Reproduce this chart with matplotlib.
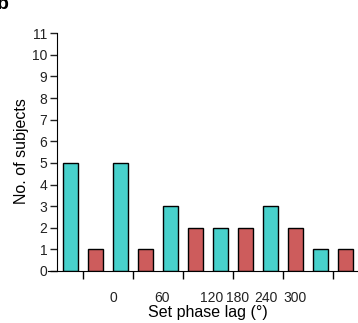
import matplotlib
matplotlib.use("Agg")
import matplotlib.pyplot as plt

plt.rcParams["font.family"] = ["Liberation Sans", "DejaVu Sans"]

# bar heights, left to right
counts = [5, 1, 5, 1, 3, 2, 2, 2, 3, 2, 1, 1]
colors = ["#48D1CC", "#CD5C5C"] * 6
lag_labels = ["0", "60", "120", "180", "240", "300"]
lag_label_pos = [1.72, 3.68, 5.68, 6.72, 7.82, 9.0]
tick_pos = [0.5, 2.5, 4.5, 6.5, 8.5, 10.5]

fig = plt.figure(figsize=(3.58, 3.23), dpi=100)
ax = fig.add_axes([48 / 358, 52 / 323, 310 / 358, 240 / 323])

ax.bar(range(len(counts)), counts, width=0.6, color=colors,
       edgecolor="black", linewidth=1.0)

ax.set_xlim(-0.88, 11.52)
ax.set_ylim(0, 11.1)

ax.spines["top"].set_visible(False)
ax.spines["right"].set_visible(False)
ax.spines["left"].set_position(("data", -0.52))
ax.spines["left"].set_bounds(0, 11)

ax.set_yticks(range(12))
ax.tick_params(axis="y", length=5, width=1, labelsize=10, colors="#222222",
               pad=2)
ax.set_xticks(tick_pos)
ax.set_xticklabels([])
ax.tick_params(axis="x", length=6, width=1)

# the lag labels sit off the tick marks in the original
for pos, lab in zip(lag_label_pos, lag_labels):
    ax.text(pos, -0.085, lab, transform=ax.get_xaxis_transform(),
            ha="center", va="top", fontsize=10, color="#222222")

ax.set_ylabel("No. of subjects", fontsize=11.5, labelpad=2)
fig.text(208 / 358, 1 - 312 / 323, "Set phase lag (°)", ha="center",
         va="center", fontsize=11.5)
fig.text(-0.008, 0.985, "b", fontsize=14, fontweight="bold", va="center")

fig.savefig("out.png", dpi=100)
